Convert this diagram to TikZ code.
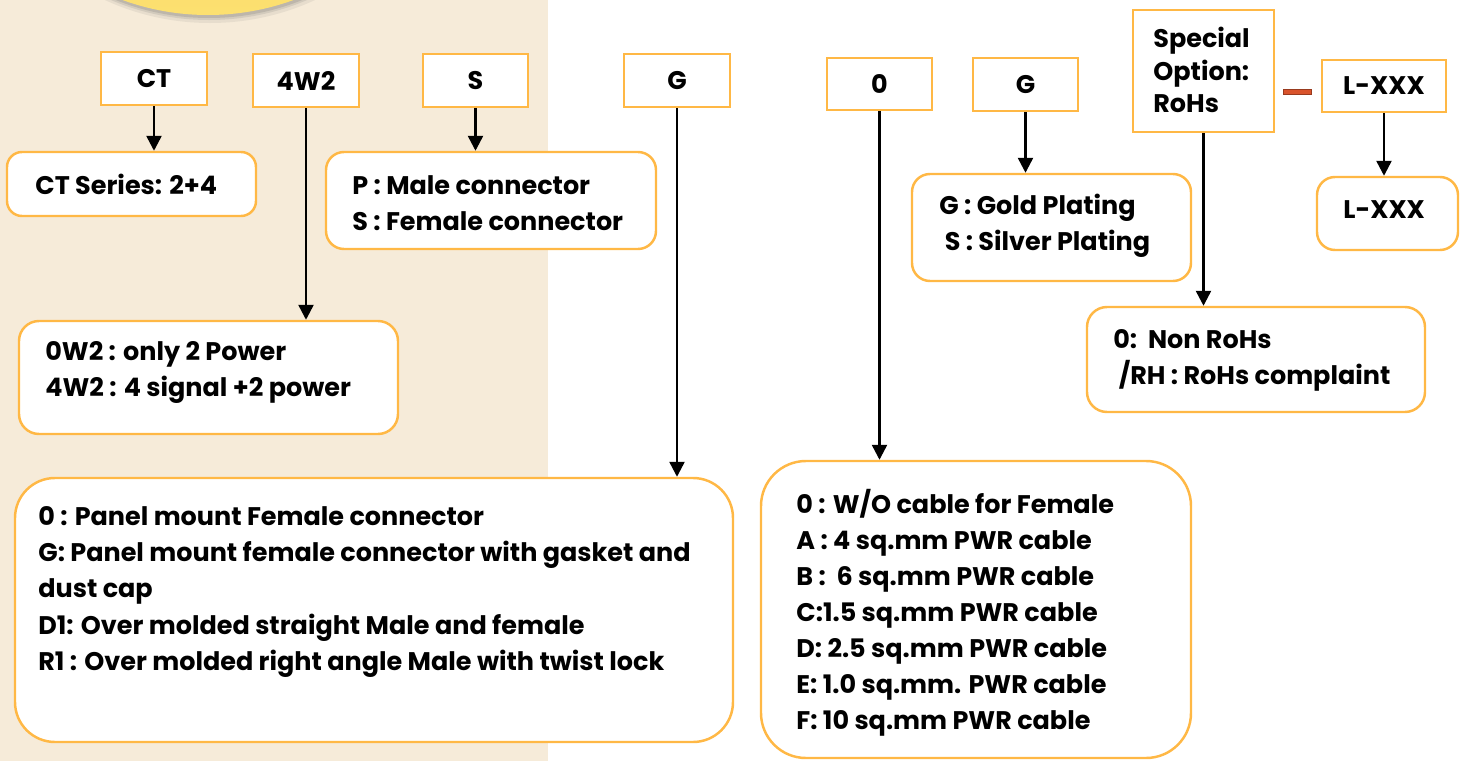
\documentclass[tikz,border=0pt]{standalone}
\usepackage{fontspec}
\setmainfont{Poppins}
\usetikzlibrary{arrows.meta,shadings}

\definecolor{boxorange}{HTML}{FFB845}
\definecolor{beige}{HTML}{F6EBD9}
\definecolor{dashred}{HTML}{D9532B}
\definecolor{discyellow}{HTML}{F8D25E}
\definecolor{discpale}{HTML}{FCE070}

\def\pxu{0.02cm}

\tikzset{
  codebox/.style={draw=boxorange, fill=white, line width=1.4pt,
    minimum width=106*\pxu, minimum height=53*\pxu, inner sep=0pt},
  descbox/.style={draw=boxorange, fill=white, line width=1.4pt,
    inner sep=0pt},
  desctext/.style={anchor=west, align=left, inner sep=0pt},
  arr/.style={-{Triangle[length=8.5pt,width=8.5pt]}, line width=1.4pt},
}

\begin{document}
\begin{tikzpicture}[x=0.02cm, y=-0.02cm,
    font=\fontsize{14.5}{20.5}\selectfont\bfseries]
  \useasboundingbox (0,0) rectangle (1465,761);
  \clip (0,0) rectangle (1465,761);
  \fill[white] (0,0) rectangle (1465,761);
  \fill[beige] (0,0) rectangle (548,761);

  % --- disco amarillo arriba ---
  \fill[black!60, opacity=0.10] (210,-228) circle (251);
  \fill[black!60, opacity=0.15] (209,-230) circle (250);
  \fill[black!60, opacity=0.20] (209,-232) circle (250);
  \shade[top color=discyellow, bottom color=discpale, middle color=discyellow]
    (208,-235) circle (250);

  % --- codigos (fila superior) ---
  \node[codebox] (ct) at (154,78.5) {CT};
  \node[codebox] (wtwo) at (306,80.5) {4W2};
  \node[codebox, minimum width=105*\pxu] (sex) at (475.5,80.5) {S};
  \node[codebox] (mount) at (677,80.5) {G};
  \node[codebox, minimum width=105*\pxu, minimum height=52*\pxu] (cable) at (879.5,84) {0};
  \node[codebox, minimum width=105*\pxu] (plate) at (1025.5,84.5) {G};
  \node[codebox, minimum width=141*\pxu, minimum height=122*\pxu] (special) at (1203.5,71) {};
  \node[desctext, font=\fontsize{14.5}{18.5}\selectfont\bfseries] (specialtxt) at (1153,70)
    {Special\\Option:\\RoHs};
  \node[codebox, minimum width=124*\pxu, minimum height=52*\pxu] (lxxx) at (1384,86) {L-XXX};

  % guion rojo entre Special y L-XXX
  \filldraw[fill=dashred, draw=dashred!70!black, line width=0.4pt]
    (1283,89) rectangle (1311,94);

  % --- descripciones ---
  \node[descbox, rounded corners=15*\pxu, minimum width=249*\pxu, minimum height=64*\pxu] (ctdesc) at (131.5,184) {};
  \node[desctext] (cttxt) at (35,184) {CT Series: 2+4};

  \node[descbox, rounded corners=18*\pxu, minimum width=330*\pxu, minimum height=97*\pxu] (sexdesc) at (491,200.5) {};
  \node[desctext] (sextxt) at (352,203)
    {P : Male connector\\S : Female connector};

  \node[descbox, rounded corners=20*\pxu, minimum width=379*\pxu, minimum height=113*\pxu] (wdesc) at (208.5,377.5) {};
  \node[desctext] (wtxt) at (45,372.5)
    {0W2 : only 2 Power\\4W2 : 4 signal +2 power};

  \node[descbox, rounded corners=40*\pxu, minimum width=718*\pxu, minimum height=264*\pxu] (mountdesc) at (374,610) {};
  \node[desctext, font=\fontsize{14.5}{20.5}\selectfont\bfseries] (mounttxt) at (38,592)
    {0 : Panel mount Female connector\\
     G: Panel mount female connector with gasket and\\
     dust cap\\
     D1: Over molded straight Male and female\\
     R1 : Over molded right angle Male with twist lock};

  \node[descbox, rounded corners=45*\pxu, minimum width=430*\pxu, minimum height=297*\pxu] (cabledesc) at (976,609.5) {};
  \node[desctext] (cabletxt) at (796,613)
    {0 : W/O cable for Female\\
     A : 4 sq.mm PWR cable\\
     B :\ \ 6 sq.mm PWR cable\\
     C:1.5 sq.mm PWR cable\\
     D: 2.5 sq.mm PWR cable\\
     E: 1.0 sq.mm. PWR cable\\
     F: 10 sq.mm PWR cable};

  \node[descbox, rounded corners=18*\pxu, minimum width=279*\pxu, minimum height=107*\pxu] (platedesc) at (1051.5,227.5) {};
  \node[desctext] (platetxt) at (939,226)
    {G : Gold Plating\\\ S : Silver Plating};

  \node[descbox, rounded corners=20*\pxu, minimum width=338*\pxu, minimum height=105*\pxu] (rohsdesc) at (1256,359.5) {};
  \node[desctext] (rohstxt) at (1113,360.5)
    {0:\ \ Non RoHs\\\ /RH : RoHs complaint};

  \node[descbox, rounded corners=18*\pxu, minimum width=141*\pxu, minimum height=73*\pxu] (ldesc) at (1387.5,213.5) {};
  \node[desctext] (ltxt) at (1343,210) {L-XXX};

  % --- flechas ---
  \draw[arr] (ct.south) -- (ct.south |- ctdesc.north);
  \draw[arr] (wtwo.south) -- (wtwo.south |- wdesc.north);
  \draw[arr] (sex.south) -- (sex.south |- sexdesc.north);
  \draw[arr] (mount.south) -- (mount.south |- mountdesc.north);
  \draw[arr] (cable.south) -- (cable.south |- cabledesc.north);
  \draw[arr] (plate.south) -- (plate.south |- platedesc.north);
  \draw[arr] (special.south) -- (special.south |- rohsdesc.north);
  \draw[arr] (lxxx.south) -- (lxxx.south |- ldesc.north);
\end{tikzpicture}
\end{document}
